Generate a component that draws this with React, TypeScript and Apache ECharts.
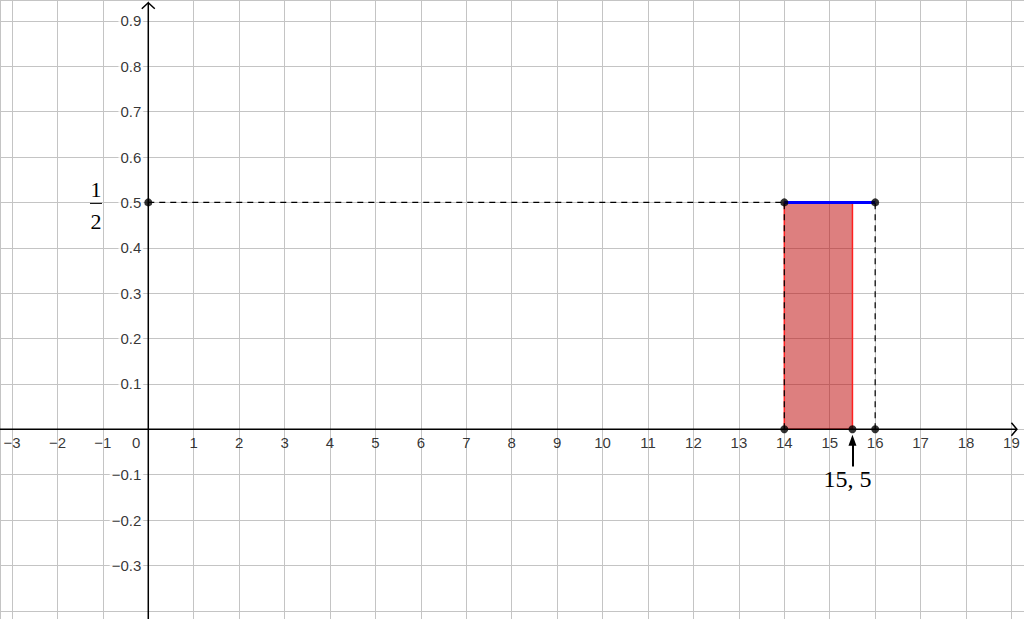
import React, { useEffect, useRef } from 'react';
import * as echarts from 'echarts';

// Axis ranges (data units)
const X_MIN = -3.264;
const X_MAX = 19.276;
const Y_MIN = -0.418;
const Y_MAX = 0.946;
const X_STEP = 1;
const Y_STEP = 0.1;

// Tick labels
const xTicks: number[] = [-3, -2, -1, 1, 2, 3, 4, 5, 6, 7, 8, 9, 10, 11, 12, 13, 14, 15, 16, 17, 18, 19];
const yTicks: number[] = [-0.3, -0.2, -0.1, 0.1, 0.2, 0.3, 0.4, 0.5, 0.6, 0.7, 0.8, 0.9];
const originLabel = '0';

// Marked points
const points: [number, number][] = [
  [0, 0.5],
  [14, 0.5],
  [16, 0.5],
  [14, 0],
  [15.5, 0],
  [16, 0],
];

// Dashed guide segments
const dashedSegments: [number, number][][] = [
  [[0, 0.5], [14, 0.5]],
  [[14, 0], [14, 0.5]],
  [[16, 0], [16, 0.5]],
];

// Blue density segment
const blueSegment: [number, number][] = [[14, 0.5], [16, 0.5]];

// Shaded region
const shadedX: [number, number] = [14, 15.5];
const shadedY: [number, number] = [0, 0.5];

// Arrow annotation
const arrowStart: [number, number] = [15.5, -0.082];
const arrowEnd: [number, number] = [15.5, -0.024];
const arrowLabel = '15, 5';
const arrowLabelPos: [number, number] = [15.39, -0.1095];

// Fraction label 1/2
const fracNum = '1';
const fracDen = '2';
const fracPos: [number, number] = [-1.151, 0.5];

// Axis tips
const xTip: [number, number] = [19.12, 0];
const yTip: [number, number] = [0, 0.94];

const SANS = '"Liberation Sans", Arial, sans-serif';
const SERIF = '"Liberation Serif", "Times New Roman", serif';

const fmtNum = (v: number, digits: number) => (v < 0 ? '\u2212' : '') + Math.abs(v).toFixed(digits);

export default function App() {
  const ref = useRef<HTMLDivElement>(null);

  useEffect(() => {
    if (!ref.current) return;
    const chart = echarts.init(ref.current, null, { renderer: 'svg' });

    const series: any[] = [];

    series.push({
      type: 'custom',
      z: 2,
      silent: true,
      data: [[shadedX[0], shadedY[0]]],
      renderItem: (_p: any, api: any) => {
        const a = api.coord([shadedX[0], shadedY[1]]);
        const b = api.coord([shadedX[1], shadedY[0]]);
        return {
          type: 'rect',
          shape: { x: a[0], y: a[1], width: b[0] - a[0], height: b[1] - a[1] },
          style: { fill: 'rgba(188,0,0,0.5)', stroke: '#ff2020', lineWidth: 1.5 },
        };
      },
    });

    dashedSegments.forEach((seg) => {
      series.push({
        type: 'line',
        z: 3,
        silent: true,
        symbol: 'none',
        data: seg,
        lineStyle: { color: '#000', width: 1.2, type: [6, 5] },
      });
    });

    series.push({
      type: 'line',
      z: 4,
      silent: true,
      symbol: 'none',
      data: blueSegment,
      lineStyle: { color: '#0000ff', width: 3 },
    });

    // x tick labels
    series.push({
      type: 'scatter',
      z: 5,
      silent: true,
      symbolSize: 0,
      data: xTicks.map((v) => [v, 0]),
      label: {
        show: true,
        position: 'bottom',
        distance: 6,
        color: '#000',
        fontSize: 15,
        fontFamily: SANS,
        formatter: (p: any) => fmtNum(p.value[0], 0),
      },
    });

    // origin label
    series.push({
      type: 'scatter',
      z: 5,
      silent: true,
      symbolSize: 0,
      data: [[0, 0]],
      label: {
        show: true,
        position: 'bottom',
        distance: 6,
        offset: [-12, 0],
        color: '#000',
        fontSize: 15,
        fontFamily: SANS,
        formatter: () => originLabel,
      },
    });

    // y tick labels
    series.push({
      type: 'scatter',
      z: 5,
      silent: true,
      symbolSize: 0,
      data: yTicks.map((v) => [0, v]),
      label: {
        show: true,
        position: 'left',
        distance: 5,
        color: '#000',
        fontSize: 15,
        fontFamily: SANS,
        backgroundColor: '#fff',
        padding: [1, 2, 1, 2],
        formatter: (p: any) => fmtNum(p.value[1], 1),
      },
    });

    series.push({
      type: 'scatter',
      z: 10,
      silent: true,
      symbol: 'circle',
      symbolSize: 8,
      itemStyle: { color: '#000' },
      data: points,
      markLine: {
        silent: true,
        z: 11,
        symbol: ['none', 'triangle'],
        symbolSize: [8, 11],
        label: { show: false },
        lineStyle: { color: '#000', width: 2, type: 'solid' },
        data: [[{ coord: arrowStart }, { coord: arrowEnd }]],
      },
    });

    const option: any = {
      animation: false,
      backgroundColor: '#fff',
      grid: { left: 0, right: 0, top: 0, bottom: 0, containLabel: false, outerBoundsMode: 'none' },
      xAxis: {
        type: 'value',
        min: X_MIN,
        max: X_MAX,
        splitNumber: 22,
        minInterval: X_STEP,
        maxInterval: X_STEP,
        axisLine: { show: false },
        axisTick: { show: false },
        axisLabel: { show: false },
        splitLine: { show: true, lineStyle: { color: '#c4c4c4', width: 1 } },
      },
      yAxis: {
        type: 'value',
        min: Y_MIN,
        max: Y_MAX,
        splitNumber: 14,
        minInterval: Y_STEP,
        maxInterval: Y_STEP,
        axisLine: { show: false },
        axisTick: { show: false },
        axisLabel: { show: false },
        splitLine: { show: true, lineStyle: { color: '#c4c4c4', width: 1 } },
      },
      series,
    };

    chart.setOption(option);

    const o = chart.convertToPixel({ gridIndex: 0 }, [0, 0]) as number[];
    const xt = chart.convertToPixel({ gridIndex: 0 }, xTip) as number[];
    const yt = chart.convertToPixel({ gridIndex: 0 }, yTip) as number[];
    const lbl = chart.convertToPixel({ gridIndex: 0 }, arrowLabelPos) as number[];
    const fr = chart.convertToPixel({ gridIndex: 0 }, fracPos) as number[];
    const H = chart.getHeight();

    const axisStyle = { stroke: '#000', lineWidth: 1.5, fill: 'none' };

    chart.setOption({
      graphic: [
        { type: 'line', z: 6, silent: true, shape: { x1: 0, y1: o[1], x2: xt[0], y2: o[1] }, style: axisStyle },
        {
          type: 'polyline', z: 6, silent: true,
          shape: { points: [[xt[0] - 5.5, o[1] - 6.5], [xt[0], o[1]], [xt[0] - 5.5, o[1] + 6.5]] },
          style: axisStyle,
        },
        { type: 'line', z: 6, silent: true, shape: { x1: o[0], y1: H, x2: o[0], y2: yt[1] }, style: axisStyle },
        {
          type: 'polyline', z: 6, silent: true,
          shape: { points: [[o[0] - 6.5, yt[1] + 6], [o[0], yt[1]], [o[0] + 6.5, yt[1] + 6]] },
          style: axisStyle,
        },
        {
          type: 'text', z: 12, silent: true, x: lbl[0], y: lbl[1],
          style: { text: arrowLabel, fill: '#000', font: `24px ${SERIF}`, align: 'center', verticalAlign: 'middle' },
        },
        {
          type: 'text', z: 12, silent: true, x: fr[0], y: fr[1] - 12.5,
          style: { text: fracNum, fill: '#000', font: `22px ${SERIF}`, align: 'center', verticalAlign: 'middle' },
        },
        {
          type: 'line', z: 12, silent: true,
          shape: { x1: fr[0] - 6, y1: fr[1] + 1, x2: fr[0] + 6, y2: fr[1] + 1 },
          style: { stroke: '#000', lineWidth: 1 },
        },
        {
          type: 'text', z: 12, silent: true, x: fr[0], y: fr[1] + 19,
          style: { text: fracDen, fill: '#000', font: `22px ${SERIF}`, align: 'center', verticalAlign: 'middle' },
        },
      ],
    });

    return () => chart.dispose();
  }, []);

  return (
    <div
      ref={ref}
      style={{ position: 'fixed', left: 0, top: 0, width: 1024, height: 619, background: '#fff' }}
    />
  );
}
